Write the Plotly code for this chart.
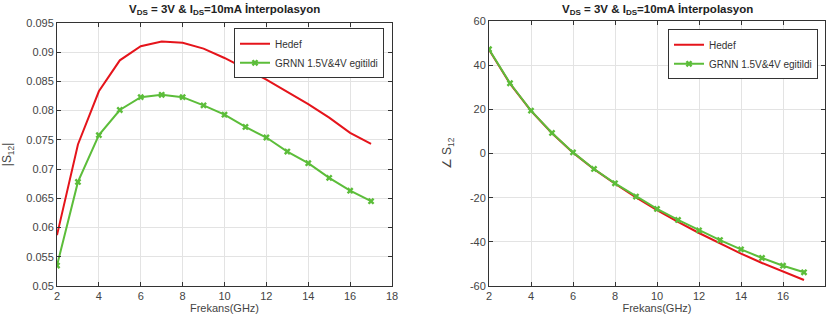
import plotly.graph_objects as go

freq = [2, 3, 4, 5, 6, 7, 8, 9, 10, 11, 12, 13, 14, 15, 16, 17]

mag_hedef = [0.0587, 0.0742, 0.0833, 0.0886, 0.0910, 0.0918, 0.0916, 0.0906, 0.0890, 0.0872, 0.0853, 0.0832, 0.0811, 0.0788, 0.0762, 0.0743]
mag_grnn = [0.0535, 0.0678, 0.0758, 0.0801, 0.0823, 0.0827, 0.0823, 0.0809, 0.0793, 0.0772, 0.0754, 0.0730, 0.0710, 0.0685, 0.0663, 0.0645]

ang_hedef = [47.0, 31.6, 19.3, 9.2, 0.4, -7.1, -13.7, -19.9, -25.6, -31.0, -36.0, -40.8, -45.3, -49.6, -53.6, -57.3]
ang_grnn = [47.2, 31.8, 19.4, 9.3, 0.5, -7.0, -13.5, -19.5, -25.1, -30.1, -34.8, -39.2, -43.4, -47.3, -50.8, -53.8]

ang_ticks = [-60, -40, -20, 0, 20, 40, 60]
ang_ticktext = ["-60", "-40", "-20", "0", "20", "40", "60"]

title_txt = "<b>V<sub>DS</sub> = 3V & I<sub>DS</sub>=10mA İnterpolasyon</b>"
names = ["Hedef", "GRNN 1.5V&4V egitildi"]
RED = "#e5141b"
GREEN = "#5cbd3a"
FONT = "Liberation Sans, Arial, sans-serif"

W, H = 830, 326
ML, MR, MT, MB = 57, 5, 20.7, 40
PW = W - ML - MR
PH = H - MT - MB

def xd(a, b):
    return [(a - ML) / PW, (b - ML) / PW]

def yd(top, bottom):
    return [(H - MB - bottom) / PH, (H - MB - top) / PH]

fig = go.Figure()
fig.add_trace(go.Scatter(x=freq, y=mag_hedef, mode="lines", name=names[0],
                         line=dict(color=RED, width=2), xaxis="x", yaxis="y", legend="legend"))
fig.add_trace(go.Scatter(x=freq, y=mag_grnn, mode="lines+markers", name=names[1],
                         line=dict(color=GREEN, width=2),
                         marker=dict(symbol="x", size=6, color=GREEN),
                         xaxis="x", yaxis="y", legend="legend"))
fig.add_trace(go.Scatter(x=freq, y=ang_hedef, mode="lines", name=names[0],
                         line=dict(color=RED, width=2), xaxis="x2", yaxis="y2", legend="legend2"))
fig.add_trace(go.Scatter(x=freq, y=ang_grnn, mode="lines+markers", name=names[1],
                         line=dict(color=GREEN, width=2),
                         marker=dict(symbol="x", size=6, color=GREEN),
                         xaxis="x2", yaxis="y2", legend="legend2"))

axis_common = dict(showline=True, linecolor="#333333", linewidth=1, mirror="ticks",
                   ticks="inside", ticklen=4, tickcolor="#333333", automargin=False,
                   showgrid=True, gridcolor="#e3e3e3", gridwidth=1, zeroline=False,
                   tickfont=dict(family=FONT, size=11, color="#444444"))

fig.update_layout(
    width=W, height=H,
    paper_bgcolor="white", plot_bgcolor="white",
    margin=dict(l=ML, r=MR, t=MT, b=MB, autoexpand=False),
    font=dict(family=FONT, size=11, color="#333333"),
    xaxis=dict(domain=xd(57, 392), range=[2, 18], dtick=2, anchor="y",
               title=dict(text="Frekans(GHz)", font=dict(size=11, color="#444444"), standoff=3),
               **axis_common),
    yaxis=dict(domain=yd(22.6, 286), range=[0.05, 0.095], dtick=0.005, anchor="x",
               title=dict(text="|S<sub>12</sub>|", font=dict(size=12, color="#444444")),
               **axis_common),
    xaxis2=dict(domain=xd(489, 825), range=[2, 18], dtick=2, anchor="y2",
                title=dict(text="Frekans(GHz)", font=dict(size=11, color="#444444"), standoff=3),
                **axis_common),
    yaxis2=dict(domain=yd(20.7, 286), range=[-60, 60], tickvals=ang_ticks, ticktext=ang_ticktext,
                anchor="x2",
                title=dict(text="∠ S<sub>12</sub>", font=dict(size=12, color="#444444")),
                **axis_common),
    legend=dict(x=(384 - ML) / PW, y=(H - MB - 28) / PH,
                xanchor="right", yanchor="top",
                bgcolor="white", bordercolor="#333333", borderwidth=1,
                font=dict(family=FONT, size=10, color="#333333"),
                tracegroupgap=0, itemwidth=30),
    legend2=dict(x=(818 - ML) / PW, y=(H - MB - 29) / PH, xanchor="right", yanchor="top",
                 bgcolor="white", bordercolor="#333333", borderwidth=1,
                 font=dict(family=FONT, size=10, color="#333333"),
                 tracegroupgap=0, itemwidth=30),
    showlegend=True,
    annotations=[
        dict(text=title_txt, x=((57 + 392) / 2 - ML) / PW, y=(H - MB - 0.5) / PH, xref="paper", yref="paper",
             xanchor="center", yanchor="top", showarrow=False,
             font=dict(family=FONT, size=11.5, color="#222222")),
        dict(text=title_txt, x=((489 + 825) / 2 - ML) / PW, y=(H - MB - 0.5) / PH, xref="paper", yref="paper",
             xanchor="center", yanchor="top", showarrow=False,
             font=dict(family=FONT, size=11.5, color="#222222")),
    ],
)

fig.write_html("out.html", config={"displayModeBar": False},
               post_script="document.body.style.margin='0';document.body.style.overflow='hidden';")
